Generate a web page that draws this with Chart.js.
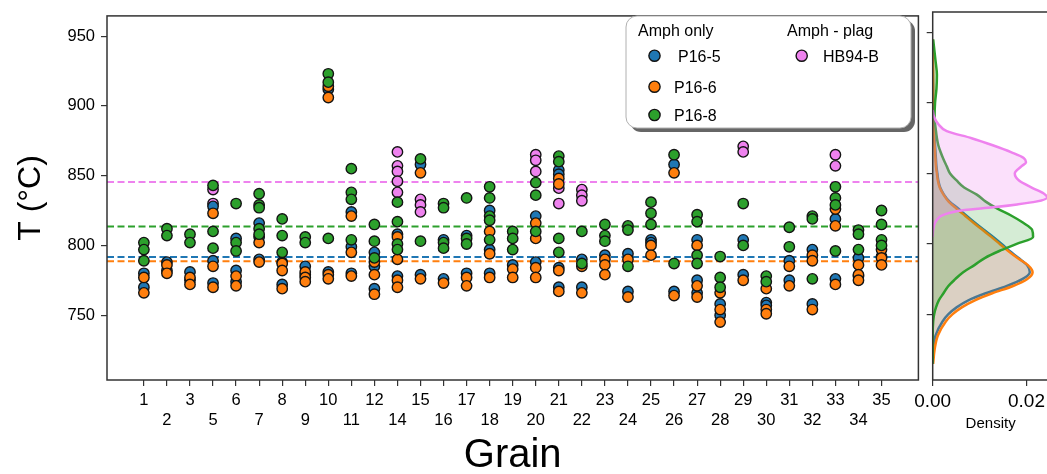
<!DOCTYPE html>
<html>
<head>
<meta charset="utf-8">
<script src="https://cdn.jsdelivr.net/npm/chart.js@4"></script>
<style>
  html, body { margin: 0; padding: 0; background: #fff; overflow: hidden; }
  #wrap { position: relative; width: 1047px; height: 474px; overflow: hidden; }
  #main { position: absolute; left: 0; top: 0; }
  #dens { position: absolute; left: 900px; top: 0; }
</style>
</head>
<body>
<div id="wrap">
  <canvas id="main" width="925" height="474"></canvas>
  <canvas id="dens" width="149" height="474"></canvas>
</div>
<script>
// grains on the x axis (4 and 13 are missing)
const grains = [1, 2, 3, 5, 6, 7, 8, 9, 10, 11, 12, 14, 15, 16, 17, 18, 19, 20, 21, 22, 23, 24, 25, 26, 27, 28, 29, 30, 31, 32, 33, 34, 35];

// temperatures per grain, one list per grain
const p16_5 = [
  [780, 770], [788, 782], [781, 775], [828, 789, 773], [805, 782, 774], [816, 806, 790],
  [788, 772], [785, 779], [912, 781], [824, 799, 780], [795, 785, 769], [808, 778],
  [858, 779], [804, 776], [807, 780], [825, 797, 780], [786], [821, 788],
  [854, 851, 784, 770], [790, 770], [793], [794, 767], [804, 802], [858, 767],
  [804, 775, 766], [758, 750], [804, 779], [759, 757], [789, 775], [797, 758],
  [819, 776], [791, 778], [792]
];
const p16_6 = [
  [777, 766], [786, 780], [777, 772], [823, 785, 770], [778, 771], [802, 788],
  [787, 782, 769], [781, 777, 774], [914, 906, 779, 776], [821, 795, 778], [788, 779, 765], [806, 790, 775, 770],
  [852, 776], [773], [777, 771], [810, 794, 777], [783, 777], [816, 805, 784, 777],
  [848, 844, 782, 767], [785, 766], [790, 786, 779], [790, 763], [800, 793], [852, 764],
  [800, 771, 763], [766, 754, 745], [775], [769, 754, 751], [785, 771], [793, 789, 754],
  [826, 814, 772], [786, 779, 775], [797, 791, 786]
];
const p16_8 = [
  [802, 797, 789], [812, 807], [808, 802], [843, 810, 798], [830, 802, 796], [837, 829, 827, 812, 808],
  [819, 807, 795], [806, 802], [923, 917, 805], [855, 838, 833, 804], [815, 803, 791], [831, 817, 801, 797],
  [862, 803], [830, 827, 802, 798], [834, 805, 801], [842, 834, 821, 818, 804], [810, 805, 797], [845, 836, 810],
  [864, 860, 805, 795], [810, 787], [815, 807, 803], [814, 811, 785], [831, 823, 815], [865, 787],
  [822, 817, 793, 787], [792, 777, 770], [830, 800], [778, 774], [813, 799], [821, 819, 776],
  [842, 834, 829, 796], [811, 808, 797], [825, 815, 804, 800]
];
const hb94_b = [
  [], [], [], [840, 830], [], [],
  [], [], [], [], [], [867, 857, 853, 846, 838],
  [833, 829, 824], [], [], [], [], [865, 861, 853],
  [841, 830], [840, 836, 832], [], [], [], [],
  [], [], [871, 867], [], [], [],
  [865, 857], [], []
];

const seriesNames = ['P16-5', 'P16-6', 'P16-8', 'HB94-B'];
const groupTitles = ['Amph only', 'Amph - plag'];
const meanT = [791.7, 788.7, 813.5, 845.4];
const tTicks = [750, 800, 850, 900, 950];

// density curves
const densT = [715, 725, 735, 745, 750, 755, 760, 765, 770, 775, 780, 785, 790, 795, 800, 805, 810, 815, 820,
  825, 830, 835, 840, 845, 850, 855, 860, 865, 870, 875, 880, 890, 900, 910, 920, 930, 945];
const dens5 = [0, 0.0001, 0.0006, 0.0021, 0.0033, 0.0051, 0.0076, 0.0113, 0.0157, 0.0191, 0.0207, 0.0201, 0.0183,
  0.0164, 0.0147, 0.0129, 0.0109, 0.0090, 0.0072, 0.0055, 0.0036, 0.0024, 0.0016, 0.0012, 0.0010, 0.0008, 0.0007,
  0.0006, 0.0005, 0.0004, 0.0003, 0.00015, 0.0001, 0.0001, 0.00005, 0.00003, 0];
const dens6 = [0.0001, 0.0004, 0.0011, 0.0028, 0.0042, 0.0062, 0.0090, 0.0127, 0.0170, 0.0201, 0.0213, 0.0203, 0.0181,
  0.0161, 0.0143, 0.0125, 0.0106, 0.0087, 0.0069, 0.0051, 0.0034, 0.0023, 0.0015, 0.0011, 0.0009, 0.0007, 0.0006,
  0.0005, 0.0004, 0.0003, 0.0003, 0.0002, 0.0001, 0.0001, 0.0001, 0.00005, 0.00002];
const dens8 = [0, 0, 0, 0.0001, 0.0003, 0.0007, 0.0013, 0.0023, 0.0033, 0.0048, 0.0065, 0.0089, 0.0111,
  0.0142, 0.0179, 0.0214, 0.0212, 0.0193, 0.0168, 0.0138, 0.0113, 0.0094, 0.0067, 0.0051, 0.0037, 0.0030, 0.0023,
  0.0017, 0.0012, 0.0009, 0.0007, 0.0004, 0.0005, 0.0008, 0.0009, 0.0006, 0.0001];
const hbT = [805, 810, 815, 818, 820, 822, 824, 826, 828, 830, 833, 836, 840, 845, 850, 855, 858, 861, 865, 870, 875, 880, 885, 890, 895];
const densHB = [0, 0.0001, 0.0005, 0.0011, 0.0019, 0.0035, 0.0068, 0.0129, 0.0180, 0.0220, 0.0244, 0.0236, 0.0211,
  0.0184, 0.0175, 0.0189, 0.0199, 0.0194, 0.0168, 0.0128, 0.0083, 0.0030, 0.0012, 0.0003, 0];
const densTicks = [0, 0.02];

const colors = ['#1f77b4', '#ff7f0e', '#2ca02c', '#ee82ee'];
const fills = ['rgba(31,119,180,0.2)', 'rgba(255,127,14,0.2)', 'rgba(44,160,44,0.2)', 'rgba(238,130,238,0.25)'];
const FONT = '"Liberation Sans", Arial, sans-serif';
Chart.defaults.font.family = FONT;
Chart.defaults.color = '#000';

function toPoints(series) {
  const pts = [];
  series.forEach((vals, i) => vals.forEach(v => pts.push({ x: i, y: v })));
  return pts;
}

function curve(ts, ds) {
  return ts.map((t, i) => ({ x: ds[i], y: t }));
}

// box round the plot area, like matplotlib spines
const framePlugin = {
  id: 'frame',
  afterDraw(chart) {
    const { ctx, chartArea: a } = chart;
    ctx.save();
    ctx.strokeStyle = '#333';
    ctx.lineWidth = 1.5;
    ctx.strokeRect(a.left, a.top, a.right - a.left, a.bottom - a.top);
    ctx.restore();
  }
};

// dashed mean lines
const meanPlugin = {
  id: 'means',
  beforeDatasetsDraw(chart) {
    const { ctx, chartArea: a, scales } = chart;
    ctx.save();
    ctx.lineWidth = 2;
    ctx.setLineDash([7, 3.5]);
    // pink first, green, blue, orange
    [3, 2, 0, 1].forEach(k => {
      const y = scales.y.getPixelForValue(meanT[k]);
      ctx.strokeStyle = colors[k];
      ctx.beginPath();
      ctx.moveTo(a.left, y);
      ctx.lineTo(a.right, y);
      ctx.stroke();
    });
    ctx.restore();
  }
};

function roundRectPath(ctx, x, y, w, h, r) {
  ctx.beginPath();
  ctx.moveTo(x + r, y);
  ctx.arcTo(x + w, y, x + w, y + h, r);
  ctx.arcTo(x + w, y + h, x, y + h, r);
  ctx.arcTo(x, y + h, x, y, r);
  ctx.arcTo(x, y, x + w, y, r);
  ctx.closePath();
}

const legendPlugin = {
  id: 'boxLegend',
  afterDraw(chart) {
    const ctx = chart.ctx;
    ctx.save();
    roundRectPath(ctx, 630, 20, 285, 112, 11);
    ctx.fillStyle = 'rgba(0,0,0,0.6)';
    ctx.fill();
    roundRectPath(ctx, 626, 16, 285, 112, 11);
    ctx.fillStyle = '#fff';
    ctx.fill();
    ctx.strokeStyle = '#b0b0b0';
    ctx.lineWidth = 1;
    ctx.stroke();

    ctx.fillStyle = '#000';
    ctx.font = '16px ' + FONT;
    ctx.textBaseline = 'alphabetic';
    ctx.textAlign = 'left';
    ctx.fillText(groupTitles[0], 638, 35.5);
    ctx.fillText(groupTitles[1], 787, 35.5);

    const rows = [[654.5, 55.7, 678, 61.5], [654.5, 86.7, 674, 92.5], [654.5, 115, 674, 121], [801.7, 55.7, 823, 61.5]];
    rows.forEach(([mx, my, tx, ty], k) => {
      ctx.beginPath();
      ctx.arc(mx, my, 5.6, 0, Math.PI * 2);
      ctx.fillStyle = colors[k];
      ctx.fill();
      ctx.lineWidth = 1.4;
      ctx.strokeStyle = '#111';
      ctx.stroke();
      ctx.fillStyle = '#000';
      ctx.fillText(seriesNames[k], tx, ty);
    });
    ctx.restore();
  }
};

const scatterSets = [p16_5, p16_6, p16_8, hb94_b].map((s, k) => ({
  label: seriesNames[k],
  data: toPoints(s),
  backgroundColor: colors[k],
  borderColor: '#141414',
  borderWidth: 1.4,
  pointRadius: 5.2,
  order: [2, 1, 0, 3][k]
}));

new Chart(document.getElementById('main'), {
  type: 'scatter',
  data: { datasets: scatterSets },
  options: {
    responsive: false,
    animation: false,
    layout: { padding: { top: 12, right: 5, left: 0, bottom: 0 } },
    plugins: { legend: { display: false }, tooltip: { enabled: false } },
    scales: {
      x: {
        type: 'linear', min: -1.6, max: 33.6,
        afterBuildTicks: s => { s.ticks = grains.map((g, i) => ({ value: i })); },
        afterFit: s => { s.height = 94; },
        ticks: {
          autoSkip: false, maxRotation: 0, minRotation: 0, padding: 5,
          font: { size: 16.5 },
          callback: (v, i) => i % 2 === 0 ? String(grains[i]) : ['', String(grains[i])]
        },
        grid: { drawOnChartArea: false, tickLength: 6, color: '#333', lineWidth: 1.2 },
        border: { display: false },
        title: { display: true, text: 'Grain', font: { size: 40, lineHeight: 1 }, padding: { top: 0, bottom: -2 } }
      },
      y: {
        type: 'linear', min: 703.5, max: 964.5,
        afterBuildTicks: s => { s.ticks = tTicks.map(v => ({ value: v })); },
        afterFit: s => { s.width = 107; },
        ticks: { padding: 6, font: { size: 16.5 } },
        grid: { drawOnChartArea: false, tickLength: 6, color: '#333', lineWidth: 1.2 },
        border: { display: false },
        title: { display: true, text: 'T (°C)', font: { size: 32, lineHeight: 1 }, padding: { top: 15, bottom: 0 } }
      }
    }
  },
  plugins: [meanPlugin, framePlugin, legendPlugin]
});

const densSets = [[densT, dens5], [densT, dens6], [densT, dens8], [hbT, densHB]].map(([ts, ds], k) => ({
  label: seriesNames[k],
  data: curve(ts, ds),
  borderColor: colors[k],
  backgroundColor: fills[k],
  borderWidth: 2.5,
  pointRadius: 0,
  fill: 'origin',
  cubicInterpolationMode: 'monotone',
  order: 3 - k
}));

new Chart(document.getElementById('dens'), {
  type: 'line',
  data: { datasets: densSets },
  options: {
    indexAxis: 'y',
    responsive: false,
    animation: false,
    layout: { padding: { top: 12, right: 0, left: 0, bottom: 0 } },
    plugins: { legend: { display: false }, tooltip: { enabled: false } },
    scales: {
      x: {
        type: 'linear', min: 0, max: 0.0247,
        afterBuildTicks: s => { s.ticks = densTicks.map(v => ({ value: v })); },
        afterFit: s => { s.height = 94; },
        ticks: { maxRotation: 0, padding: 4, font: { size: 19 }, callback: v => v.toFixed(2) },
        grid: { drawOnChartArea: false, tickLength: 6, color: '#333', lineWidth: 1.2 },
        border: { display: false },
        title: { display: true, text: 'Density', font: { size: 15, lineHeight: 1 }, padding: { top: 0, bottom: 43 } }
      },
      y: {
        type: 'linear', min: 703.5, max: 964.5,
        afterBuildTicks: s => { s.ticks = tTicks.map(v => ({ value: v })); },
        afterFit: s => { s.width = 32.7; },
        ticks: { callback: () => '' },
        grid: { drawOnChartArea: false, tickLength: 6, color: '#333', lineWidth: 1.2 },
        border: { display: false }
      }
    }
  },
  plugins: [framePlugin]
});
</script>
</body>
</html>
